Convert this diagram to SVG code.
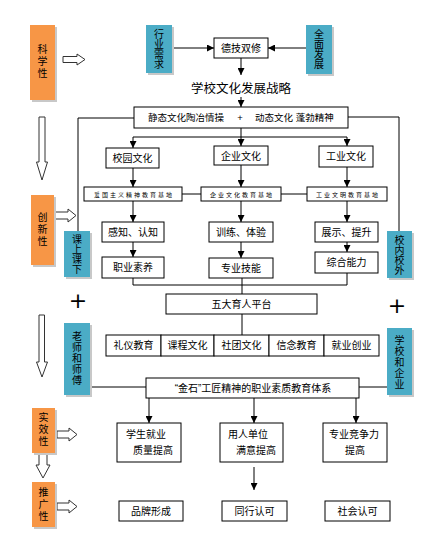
<svg xmlns="http://www.w3.org/2000/svg" width="443" height="541" viewBox="0 0 443 541">
<defs>
<marker id="ah" viewBox="0 0 10 10" refX="10" refY="5" markerWidth="7" markerHeight="7" markerUnits="userSpaceOnUse" orient="auto">
<path d="M0,0 L10,5 L0,10 Z" fill="#000"/>
</marker>
<style>
text{font-family:"Liberation Sans","Noto Sans CJK SC",sans-serif;fill:#000;}
.t{font-size:10px;text-anchor:middle;}
.s{font-size:6px;text-anchor:middle;letter-spacing:2px;}
.v{font-size:10px;text-anchor:middle;}
.box{fill:#fff;stroke:#000;stroke-width:1;}
.or{fill:#F79646;}
.bl{fill:#4BACC6;}
.sh{fill:#c8c8c8;}
.ln{fill:none;stroke:#000;stroke-width:1;}
.ar{fill:none;stroke:#000;stroke-width:1;marker-end:url(#ah);}
.ha{fill:#fff;stroke:#333;stroke-width:1;}
.pl{font-size:22px;text-anchor:middle;font-family:"DejaVu Sans",sans-serif;}
</style>
</defs>
<rect width="443" height="541" fill="#fff"/>

<g id="connectors">
<line class="ar" x1="172" y1="48" x2="214" y2="48"/>
<line class="ar" x1="306" y1="48" x2="268" y2="48"/>
<line class="ar" x1="241" y1="58" x2="241" y2="75"/>
<line class="ar" x1="241" y1="97" x2="241" y2="107"/>
<polyline class="ln" points="134,118 78,118 78,231"/>
<polyline class="ln" points="348,117 399,117 399,231"/>
<line class="ln" x1="241" y1="128" x2="241" y2="137"/>
<line class="ln" x1="133" y1="137" x2="347" y2="137"/>
<line class="ar" x1="133" y1="137" x2="133" y2="148"/>
<line class="ar" x1="241" y1="137" x2="241" y2="146"/>
<line class="ar" x1="347" y1="137" x2="347" y2="146"/>
<line class="ar" x1="133" y1="168" x2="133" y2="187"/>
<line class="ar" x1="241" y1="165" x2="241" y2="187"/>
<line class="ar" x1="347" y1="167" x2="347" y2="187"/>
<line class="ln" x1="182" y1="194" x2="201" y2="194"/>
<line class="ln" x1="281" y1="194" x2="307" y2="194"/>
<line class="ar" x1="133" y1="201" x2="133" y2="222"/>
<line class="ar" x1="241" y1="201" x2="241" y2="222"/>
<line class="ar" x1="347" y1="201" x2="347" y2="222"/>
<line class="ar" x1="133" y1="242" x2="133" y2="257"/>
<line class="ar" x1="241" y1="242" x2="241" y2="258"/>
<line class="ar" x1="347" y1="242" x2="347" y2="252"/>
<polyline class="ln" points="133,278 133,285 347,285 347,273"/>
<line class="ln" x1="242" y1="278" x2="242" y2="294"/>
<line class="ln" x1="242" y1="314" x2="242" y2="335"/>
<line class="ln" x1="90" y1="387" x2="146" y2="387"/>
<line class="ln" x1="359" y1="387" x2="387" y2="387"/>
<line class="ar" x1="149" y1="398" x2="149" y2="423"/>
<line class="ar" x1="254" y1="398" x2="254" y2="423"/>
<line class="ar" x1="356" y1="398" x2="356" y2="423"/>
<line class="ar" x1="254" y1="467" x2="254" y2="490"/>
</g>

<g id="hollow-arrows">
<polygon class="ha" points="63,56.5 77,56.5 77,54 85,59.5 77,65 77,62.5 63,62.5"/>
<polygon class="ha" points="39,117 45,117 45,162 47.5,162 42,180 36.5,162 39,162"/>
<polygon class="ha" points="55,212 68,212 68,209 76,215.5 68,222 68,219 55,219"/>
<polygon class="ha" points="39,315 44.5,315 44.5,362 47.5,362 42,377 36.5,362 39,362"/>
<polygon class="ha" points="57,431 69,431 69,428 77,434.5 69,441 69,438 57,438"/>
<polygon class="ha" points="39,448 47,448 47,465 50,465 43,478 36,465 39,465"/>
<polygon class="ha" points="57,503 69,503 69,500 77,506.5 69,513 69,510 57,510"/>
</g>

<g id="n-kexue">
<rect class="sh" x="32" y="27" width="25" height="75"/>
<rect class="or" x="30" y="25" width="25" height="75"/>
<text class="v" x="42.5" y="53"><tspan x="42.5">科</tspan><tspan x="42.5" dy="12">学</tspan><tspan x="42.5" dy="12">性</tspan></text>
</g>
<g id="n-hangye">
<rect class="sh" x="148" y="27" width="26" height="48"/>
<rect class="bl" x="146" y="25" width="26" height="48"/>
<text class="v" x="159" y="38"><tspan x="159">行</tspan><tspan x="159" dy="10">业</tspan><tspan x="159" dy="10">需</tspan><tspan x="159" dy="10">求</tspan></text>
</g>
<g id="n-dejishuangxiu">
<rect class="box" x="214" y="38" width="54" height="20"/>
<text class="t" x="241" y="52">德技双修</text>
</g>
<g id="n-quanmian">
<rect class="sh" x="308" y="27" width="26" height="49"/>
<rect class="bl" x="306" y="25" width="26" height="49"/>
<text class="v" x="319" y="38"><tspan x="319">全</tspan><tspan x="319" dy="10">面</tspan><tspan x="319" dy="10">发</tspan><tspan x="319" dy="10">展</tspan></text>
</g>
<g id="n-zhanlue">
<text x="241" y="93" style="font-size:12.5px;text-anchor:middle;">学校文化发展战略</text>
</g>
<g id="n-jingtai">
<rect class="box" x="134" y="107" width="214" height="21"/>
<text x="148" y="121" style="font-size:9.5px;">静态文化陶冶情操</text>
<text x="240" y="121" style="font-size:9.5px;text-anchor:middle;">+</text>
<text x="255" y="121" style="font-size:9.5px;">动态文化 蓬勃精神</text>
</g>
<g id="n-xiaoyuan">
<rect class="box" x="106" y="148" width="53" height="20"/>
<text class="t" x="132.5" y="162">校园文化</text>
</g>
<g id="n-qiye">
<rect class="box" x="214" y="146" width="54" height="19"/>
<text class="t" x="241" y="159.5">企业文化</text>
</g>
<g id="n-gongye">
<rect class="box" x="319" y="146" width="54" height="21"/>
<text class="t" x="346" y="160">工业文化</text>
</g>
<g id="n-aiguo">
<rect class="box" x="84" y="187" width="98" height="14"/>
<text class="s" x="134" y="196.5">爱国主义精神教育基地</text>
</g>
<g id="n-qiyejd">
<rect class="box" x="201" y="187" width="80" height="14"/>
<text class="s" x="242" y="196.5">企业文化教育基地</text>
</g>
<g id="n-gongyejd">
<rect class="box" x="307" y="187" width="80" height="14"/>
<text class="s" x="348" y="196.5">工业文明教育基地</text>
</g>
<g id="n-chuangxin">
<rect class="sh" x="33" y="197" width="23" height="70"/>
<rect class="or" x="31" y="195" width="23" height="70"/>
<text class="v" x="42.5" y="221"><tspan x="42.5">创</tspan><tspan x="42.5" dy="12">新</tspan><tspan x="42.5" dy="12">性</tspan></text>
</g>
<g id="n-ganzhi">
<rect class="box" x="102" y="222" width="62" height="20"/>
<text class="t" x="133" y="236">感知、认知</text>
</g>
<g id="n-xunlian">
<rect class="box" x="209" y="222" width="64" height="20"/>
<text class="t" x="241" y="236">训练、体验</text>
</g>
<g id="n-zhanshi">
<rect class="box" x="315" y="222" width="63" height="20"/>
<text class="t" x="346.5" y="236">展示、提升</text>
</g>
<g id="n-keshang">
<rect class="sh" x="66" y="233" width="26" height="46"/>
<rect class="bl" x="64" y="231" width="26" height="46"/>
<text class="v" x="77" y="243"><tspan x="77">课</tspan><tspan x="77" dy="10">上</tspan><tspan x="77" dy="10">课</tspan><tspan x="77" dy="10">下</tspan></text>
</g>
<g id="n-xiaonei">
<rect class="sh" x="389" y="233" width="25" height="47"/>
<rect class="bl" x="387" y="231" width="25" height="47"/>
<text class="v" x="399.5" y="244"><tspan x="399.5">校</tspan><tspan x="399.5" dy="10">内</tspan><tspan x="399.5" dy="10">校</tspan><tspan x="399.5" dy="10">外</tspan></text>
</g>
<g id="n-zhiye">
<rect class="box" x="102" y="257" width="62" height="21"/>
<text class="t" x="133" y="271">职业素养</text>
</g>
<g id="n-zhuanye">
<rect class="box" x="209" y="258" width="64" height="20"/>
<text class="t" x="241" y="272">专业技能</text>
</g>
<g id="n-zonghe">
<rect class="box" x="315" y="252" width="63" height="21"/>
<text class="t" x="346.5" y="266">综合能力</text>
</g>
<g id="plus-left"><text class="pl" x="78" y="308">+</text></g>
<g id="plus-right"><text class="pl" x="397" y="313">+</text></g>
<g id="n-wuda">
<rect class="box" x="166" y="294" width="151" height="20"/>
<text class="t" x="241.5" y="308">五大育人平台</text>
</g>
<g id="n-platforms">
<rect class="box" x="106" y="335" width="55" height="21"/>
<rect class="box" x="161" y="335" width="53" height="21"/>
<rect class="box" x="214" y="335" width="55" height="21"/>
<rect class="box" x="269" y="335" width="55" height="21"/>
<rect class="box" x="324" y="335" width="55" height="21"/>
<text class="t" x="133.5" y="349">礼仪教育</text>
<text class="t" x="187.5" y="349">课程文化</text>
<text class="t" x="241.5" y="349">社团文化</text>
<text class="t" x="296.5" y="349">信念教育</text>
<text class="t" x="351.5" y="349">就业创业</text>
</g>
<g id="n-laoshi">
<rect class="sh" x="66" y="325" width="26" height="72"/>
<rect class="bl" x="64" y="323" width="26" height="72"/>
<text class="v" x="77" y="340"><tspan x="77">老</tspan><tspan x="77" dy="11">师</tspan><tspan x="77" dy="11">和</tspan><tspan x="77" dy="11">师</tspan><tspan x="77" dy="11">傅</tspan></text>
</g>
<g id="n-xuexiao">
<rect class="sh" x="389" y="330" width="25" height="67"/>
<rect class="bl" x="387" y="328" width="25" height="67"/>
<text class="v" x="399.5" y="344"><tspan x="399.5">学</tspan><tspan x="399.5" dy="11">校</tspan><tspan x="399.5" dy="11">和</tspan><tspan x="399.5" dy="11">企</tspan><tspan x="399.5" dy="11">业</tspan></text>
</g>
<g id="n-jinshi">
<rect class="box" x="146" y="378" width="213" height="20"/>
<text class="t" x="253" y="392">“金石”工匠精神的职业素质教育体系</text>
</g>
<g id="n-shixiao">
<rect class="sh" x="34" y="410" width="23" height="45"/>
<rect class="or" x="32" y="408" width="23" height="45"/>
<text class="v" x="43.5" y="421"><tspan x="43.5">实</tspan><tspan x="43.5" dy="12">效</tspan><tspan x="43.5" dy="12">性</tspan></text>
</g>
<g id="n-xuesheng">
<rect class="box" x="117" y="423" width="64" height="39"/>
<text class="t" x="146" y="438">学生就业</text>
<text class="t" x="153" y="454">质量提高</text>
</g>
<g id="n-yongren">
<rect class="box" x="220" y="423" width="63" height="39"/>
<text class="t" x="248" y="438">用人单位</text>
<text class="t" x="256" y="454">满意提高</text>
</g>
<g id="n-jingzheng">
<rect class="box" x="323" y="423" width="64" height="39"/>
<text class="t" x="354" y="438">专业竞争力</text>
<text class="t" x="355" y="454">提高</text>
</g>
<g id="n-tuiguang">
<rect class="sh" x="34" y="484" width="23" height="45"/>
<rect class="or" x="32" y="482" width="23" height="45"/>
<text class="v" x="43.5" y="496"><tspan x="43.5">推</tspan><tspan x="43.5" dy="12">广</tspan><tspan x="43.5" dy="12">性</tspan></text>
</g>
<g id="n-pinpai">
<rect class="box" x="119" y="501" width="64" height="20"/>
<text class="t" x="151" y="515">品牌形成</text>
</g>
<g id="n-tonghang">
<rect class="box" x="222" y="501" width="65" height="20"/>
<text class="t" x="254.5" y="515">同行认可</text>
</g>
<g id="n-shehui">
<rect class="box" x="325" y="501" width="65" height="20"/>
<text class="t" x="357.5" y="515">社会认可</text>
</g>
</svg>
